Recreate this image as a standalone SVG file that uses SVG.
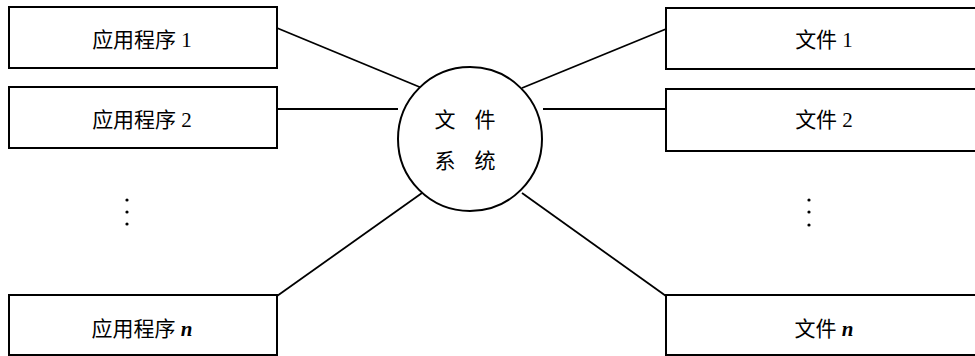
<svg xmlns="http://www.w3.org/2000/svg" width="975" height="356" viewBox="0 0 975 356">
<style>
.box{fill:#fff;stroke:#000;stroke-width:2}
.ln{stroke:#000;stroke-width:1.8;fill:none}
text{font-family:"Liberation Serif","Noto Sans CJK SC",serif;font-size:21px;fill:#000;text-anchor:middle}
.it{font-style:italic;font-weight:bold}
.dot{fill:#000}
</style>
<rect width="975" height="356" fill="#fff"/>
<g id="connectors">
<line class="ln" x1="277" y1="28" x2="422" y2="88"/>
<line class="ln" x1="277" y1="109" x2="398" y2="109"/>
<line class="ln" x1="277" y1="296" x2="422" y2="193"/>
<line class="ln" x1="522" y1="88" x2="666" y2="29"/>
<line class="ln" x1="543" y1="109" x2="666" y2="109"/>
<line class="ln" x1="522" y1="193" x2="666" y2="296"/>
</g>
<g id="app1"><rect class="box" x="9" y="7" width="268" height="61"/><text x="142" y="47">应用程序 1</text></g>
<g id="app2"><rect class="box" x="9" y="87" width="268" height="61"/><text x="142" y="127">应用程序 2</text></g>
<g id="dotsL"><circle class="dot" cx="127" cy="200" r="1.6"/><circle class="dot" cx="127" cy="212" r="1.6"/><circle class="dot" cx="127" cy="224" r="1.6"/></g>
<g id="appn"><rect class="box" x="9" y="295" width="268" height="60"/><text x="142" y="336">应用程序 <tspan class="it">n</tspan></text></g>
<g id="fs"><circle class="box" cx="470" cy="139" r="72"/><text x="445" y="127">文</text><text x="485" y="127">件</text><text x="445" y="168">系</text><text x="485" y="168">统</text></g>
<g id="file1"><rect class="box" x="666" y="8" width="320" height="61"/><text x="824" y="47">文件 1</text></g>
<g id="file2"><rect class="box" x="666" y="89" width="320" height="62"/><text x="824" y="127">文件 2</text></g>
<g id="dotsR"><circle class="dot" cx="809" cy="200" r="1.6"/><circle class="dot" cx="809" cy="212" r="1.6"/><circle class="dot" cx="809" cy="225" r="1.6"/></g>
<g id="filen"><rect class="box" x="666" y="295" width="320" height="60"/><text x="824" y="336">文件 <tspan class="it">n</tspan></text></g>
</svg>
